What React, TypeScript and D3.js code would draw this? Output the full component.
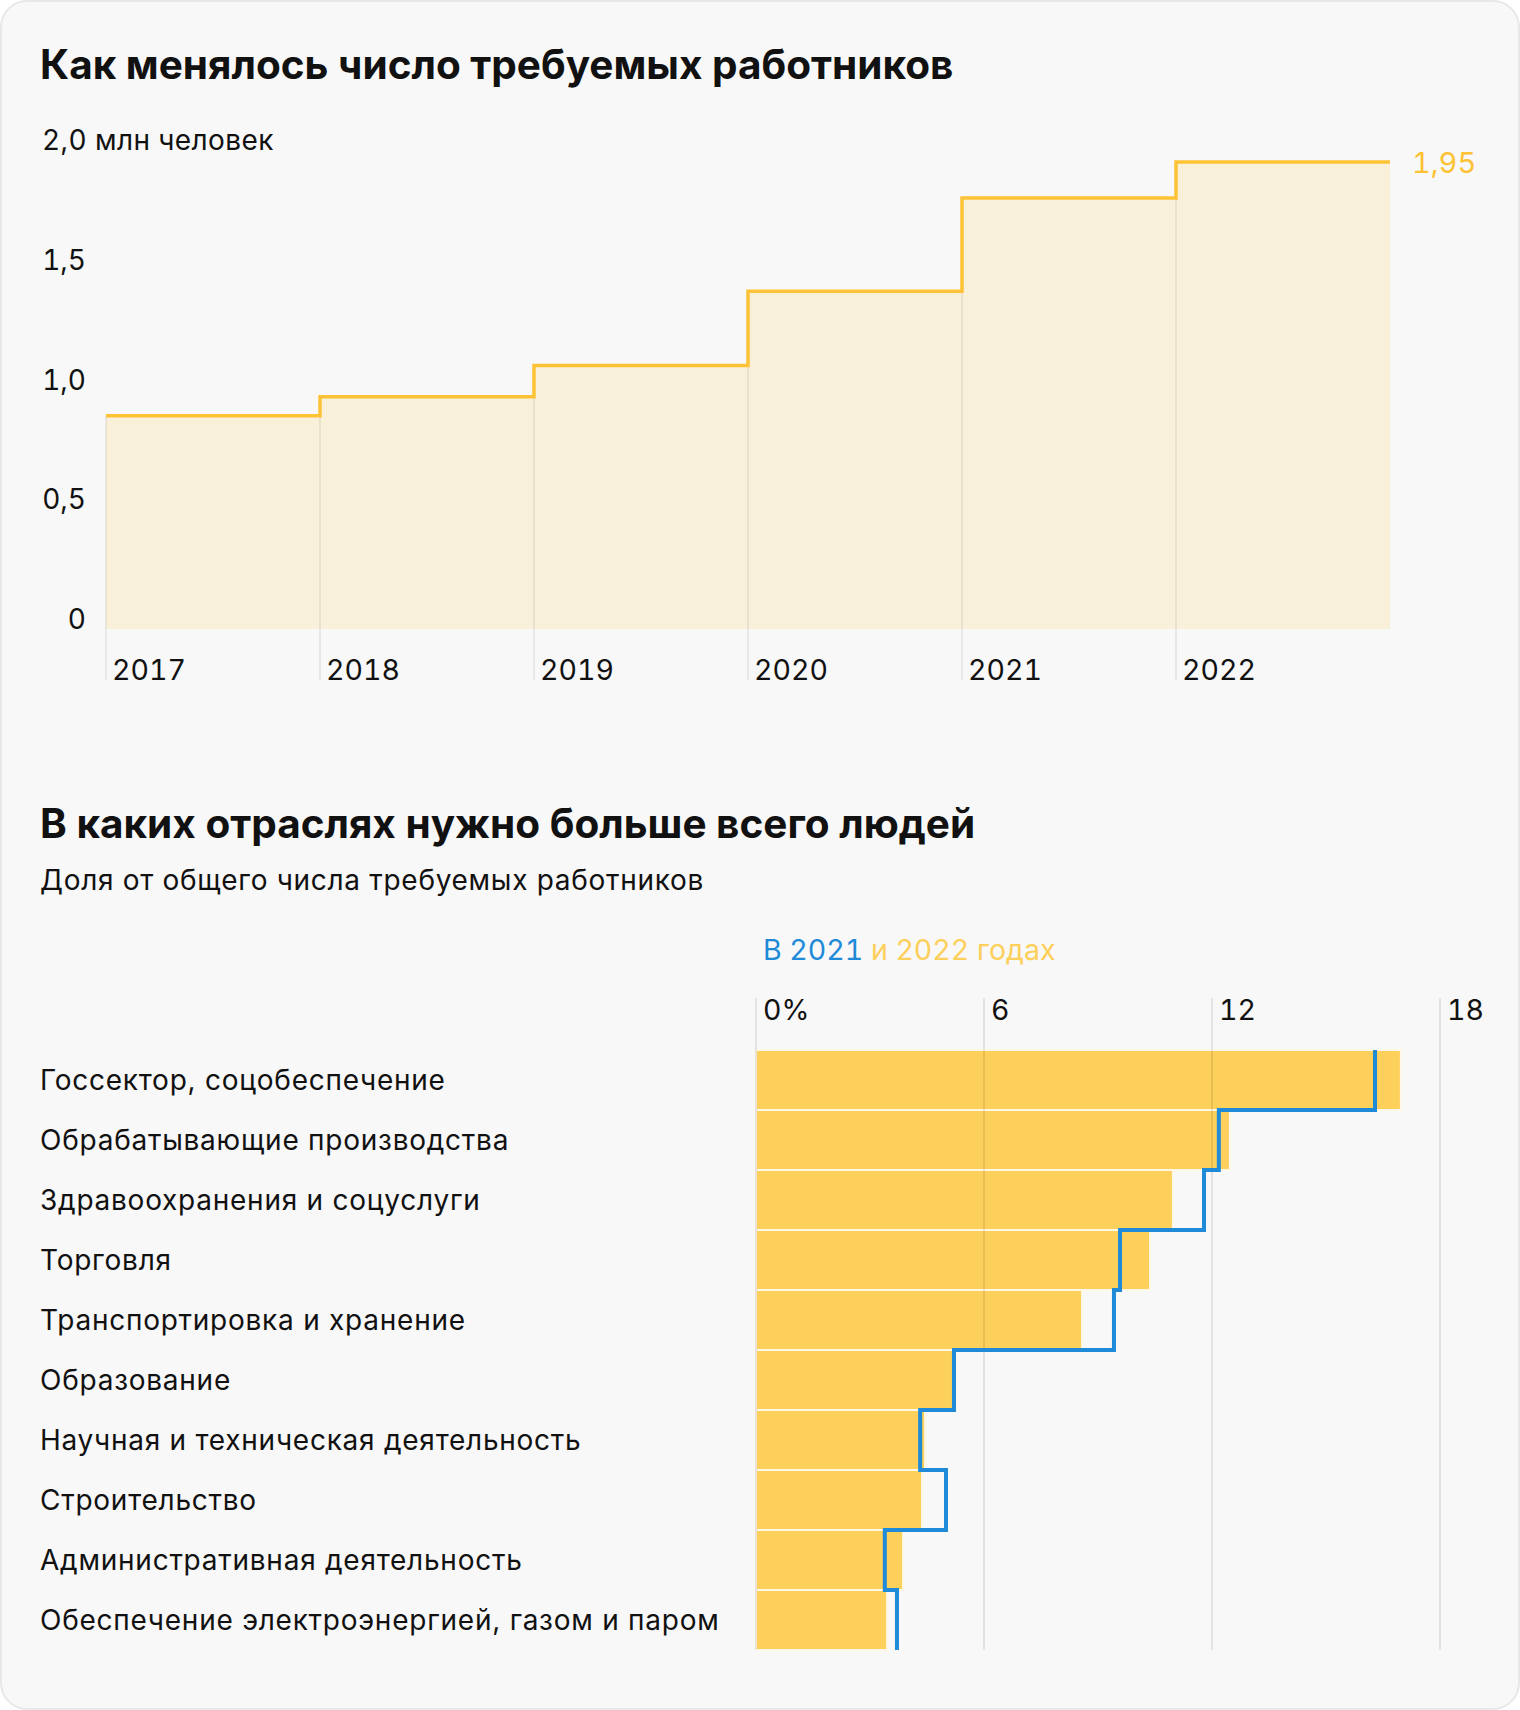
import React from "react";
import * as d3 from "d3";

// ---------- Data: top chart ----------
const years = [2017, 2018, 2019, 2020, 2021, 2022];
const demand = [0.89, 0.97, 1.1, 1.41, 1.8, 1.95];
const yTicks = [0, 0.5, 1.0, 1.5];
const yTickLabels = ["0", "0,5", "1,0", "1,5"];
const yTopTick = 2.0;
const yTopLabel = "2,0 млн человек";
const lastValueLabel = "1,95";

// ---------- Data: bottom chart ----------
const industries = [
  "Госсектор, соцобеспечение",
  "Обрабатывающие производства",
  "Здравоохранения и соцуслуги",
  "Торговля",
  "Транспортировка и хранение",
  "Образование",
  "Научная и техническая деятельность",
  "Строительство",
  "Административная деятельность",
  "Обеспечение электроэнергией, газом и паром",
];
const share2022 = [16.97, 12.47, 10.97, 10.37, 8.58, 5.26, 4.45, 4.37, 3.87, 3.45];
const share2021 = [16.29, 12.18, 11.79, 9.58, 9.42, 5.21, 4.32, 5.0, 3.39, 3.71];
const xTicks = [0, 6, 12, 18];
const xTickLabels = ["0%", "6", "12", "18"];

const FONT = "Inter, 'Noto Sans', sans-serif";
const TEXT = "#111111";
const LINE_YELLOW = "#fdc235";
const FILL_YELLOW = "#f9f0da";
const BAR_YELLOW = "#fdcf5b";
const BLUE = "#1e8ad8";
const GRID = "rgba(0,0,0,0.11)";
const NUM: React.CSSProperties = { fontVariantNumeric: "tabular-nums" };

export default function App() {
  const W = 1520;
  const H = 1710;

  // top chart scales
  const x1 = d3.scaleLinear().domain([2017, 2023]).range([106, 1390]);
  const y1 = d3.scaleLinear().domain([0, 2]).range([629, 150]);
  const stepData = years.map((yr, i) => ({ x: yr, v: demand[i] }));
  stepData.push({ x: years[years.length - 1] + 1, v: demand[demand.length - 1] });
  const area = d3
    .area<{ x: number; v: number }>()
    .x((d) => x1(d.x))
    .y0(y1(0))
    .y1((d) => y1(d.v))
    .curve(d3.curveStepAfter);
  const line = d3
    .line<{ x: number; v: number }>()
    .x((d) => x1(d.x))
    .y((d) => y1(d.v))
    .curve(d3.curveStepAfter);

  // bottom chart scales
  const x2 = d3.scaleLinear().domain([0, 18]).range([756, 1440]);
  const y2 = d3.scaleBand<string>().domain(industries).range([1050, 1650]).padding(0);
  const bw = y2.bandwidth();
  const bluePts: [number, number][] = share2021.flatMap((v, i) => [
    [x2(v), y2(industries[i])!] as [number, number],
    [x2(v), y2(industries[i])! + bw] as [number, number],
  ]);
  const blueLine = d3.line();

  return (
    <svg
      width={W}
      height={H}
      style={{ position: "absolute", left: 0, top: 0, fontFamily: FONT }}
    >
      <rect x={1} y={1} width={W - 2} height={H - 2} rx={26} fill="#f8f8f8" stroke="#e8e8e8" strokeWidth={2} />

      {/* ---------- Top chart ---------- */}
      <text x={40} y={79} fontSize={40.5} fontWeight={700} fill={TEXT}>
        Как менялось число требуемых работников
      </text>

      <path d={area(stepData) || ""} fill={FILL_YELLOW} />
      {years.map((yr, i) => (
        <line
          key={"g" + yr}
          x1={x1(yr)}
          x2={x1(yr)}
          y1={y1(demand[i])}
          y2={680}
          stroke={GRID}
          strokeWidth={1.2}
        />
      ))}
      <path d={line(stepData) || ""} fill="none" stroke={LINE_YELLOW} strokeWidth={3.5} />

      {yTicks.map((t, i) => (
        <text key={"yt" + t} x={86} y={y1(t)} textAnchor="end" fontSize={28} fill={TEXT} style={NUM}>
          {yTickLabels[i]}
        </text>
      ))}
      <text x={42} y={y1(yTopTick)} fontSize={28} fill={TEXT} letterSpacing={0.4} style={NUM}>
        {yTopLabel}
      </text>
      <text
        x={1412}
        y={y1(demand[demand.length - 1]) + 11}
        fontSize={29}
        fill={LINE_YELLOW}
        style={NUM}
      >
        {lastValueLabel}
      </text>
      {years.map((yr) => (
        <text key={"yl" + yr} x={x1(yr) + 6} y={680} fontSize={28.5} fill={TEXT} style={NUM}>
          {yr}
        </text>
      ))}

      {/* ---------- Bottom chart ---------- */}
      <text x={40} y={838} fontSize={40.5} fontWeight={700} fill={TEXT}>
        В каких отраслях нужно больше всего людей
      </text>
      <text x={40} y={890} fontSize={28} fill={TEXT} letterSpacing={0.7}>
        Доля от общего числа требуемых работников
      </text>
      <text x={763} y={960} fontSize={28.5} style={NUM}>
        <tspan fill={BLUE}>В 2021</tspan>
        <tspan fill={BAR_YELLOW}> и 2022 годах</tspan>
      </text>

      {industries.map((name, i) => (
        <rect
          key={"b" + i}
          x={x2(0)}
          y={y2(name)!}
          width={x2(share2022[i]) - x2(0)}
          height={bw}
          fill={BAR_YELLOW}
          stroke="#fff8e6"
          strokeWidth={2}
        />
      ))}
      {xTicks.map((t, i) => (
        <g key={"xt" + t}>
          <line x1={x2(t)} x2={x2(t)} y1={998} y2={1650} stroke={GRID} strokeWidth={1.5} />
          <text x={x2(t) + 7} y={1020} fontSize={28.5} fill={TEXT} style={NUM}>
            {xTickLabels[i]}
          </text>
        </g>
      ))}
      <path d={blueLine(bluePts) || ""} fill="none" stroke={BLUE} strokeWidth={4} />

      {industries.map((name) => (
        <text
          key={"l" + name}
          x={40}
          y={y2(name)! + bw / 2 + 10}
          fontSize={28}
          fill={TEXT}
          letterSpacing={0.75}
        >
          {name}
        </text>
      ))}
    </svg>
  );
}
